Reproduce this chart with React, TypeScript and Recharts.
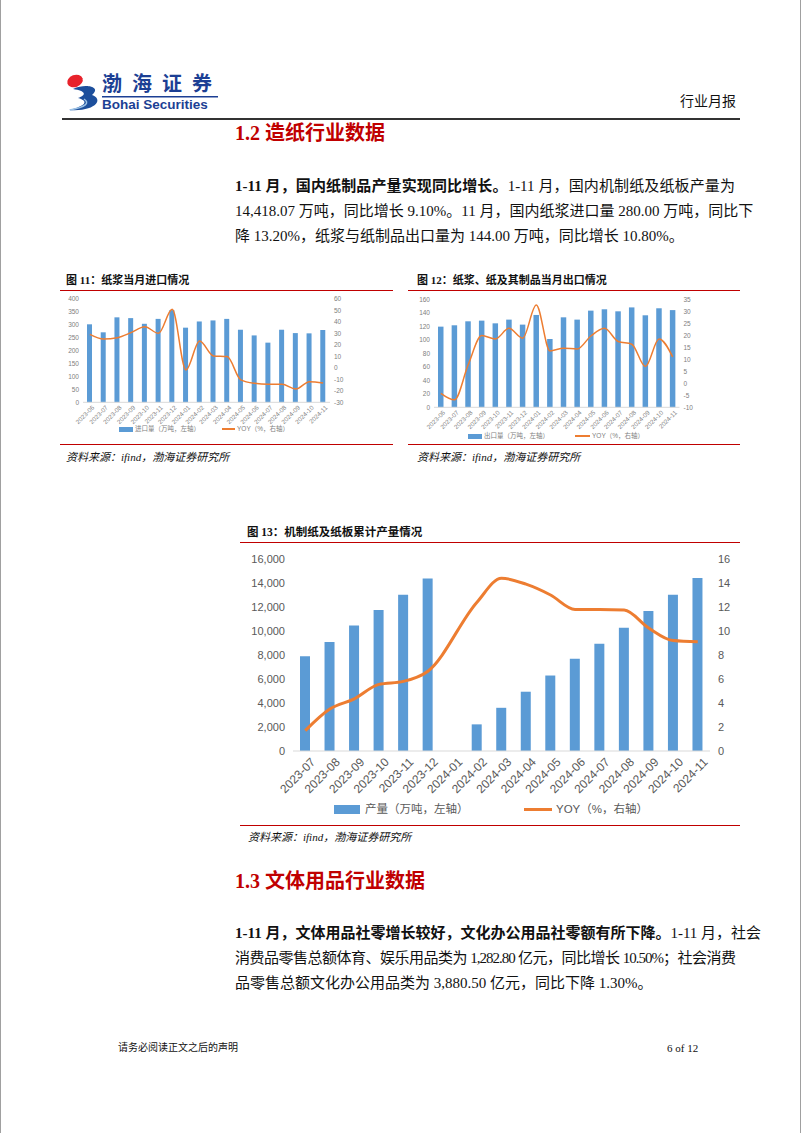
import React from "react";
import { ComposedChart, Bar, Line, XAxis, YAxis, Legend } from "recharts";

// 图11 / 图12: 2023-06 ~ 2024-11
const smallMonths = [
  "2023-06", "2023-07", "2023-08", "2023-09", "2023-10", "2023-11", "2023-12",
  "2024-01", "2024-02", "2024-03", "2024-04", "2024-05", "2024-06", "2024-07",
  "2024-08", "2024-09", "2024-10", "2024-11",
];
// 纸浆进口量（万吨）
const pulpImport = [302, 271, 329, 326, 304, 323, 357, 289, 313, 317, 323, 281, 259, 231, 281, 268, 267, 280];
// 纸浆进口 YOY（%）
const pulpImportYoy = [29.2, 25.2, 26.3, 30.7, 35.9, 30.1, 51, -1.8, 23.4, 10.4, 9.8, -10.5, -13.5, -14.3, -14.3, -18.4, -12, -13.2];
// 纸浆、纸及纸制品出口量（万吨）
const paperExport = [119.5, 121.5, 127.4, 128.4, 124.4, 129.9, 122.5, 136.8, 101.2, 133.3, 129.9, 143.2, 145.2, 142.2, 148, 136.3, 146.7, 144];
// 出口 YOY（%）
const paperExportYoy = [-4.2, -6.9, 7.6, 19.9, 18.5, 22.9, 18.8, 32.6, 13.5, 14.6, 14.3, 19.7, 22.9, 17.4, 16.3, 7, 18.5, 11];

// 图13: 2023-07 ~ 2024-11
const bigMonths = [
  "2023-07", "2023-08", "2023-09", "2023-10", "2023-11", "2023-12", "2024-01",
  "2024-02", "2024-03", "2024-04", "2024-05", "2024-06", "2024-07", "2024-08",
  "2024-09", "2024-10", "2024-11",
];
// 机制纸及纸板累计产量（万吨）
const paperOutput = [7900, 9090, 10450, 11750, 13025, 14380, null, 2220, 3600, 4940, 6290, 7680, 8930, 10280, 11670, 13025, 14418];
// 累计产量 YOY（%）
const paperOutputYoy = [1.7, 3.5, 4.35, 5.55, 5.8, 6.65, null, 12.4, 14.4, 13.9, 13.0, 11.8, 11.8, 11.75, 10.25, 9.2, 9.1];

// axis ticks
const importLeftTicks = [0, 50, 100, 150, 200, 250, 300, 350, 400];
const importRightTicks = [-30, -20, -10, 0, 10, 20, 30, 40, 50, 60];
const exportLeftTicks = [0, 20, 40, 60, 80, 100, 120, 140, 160];
const exportRightTicks = [-10, -5, 0, 5, 10, 15, 20, 25, 30, 35];
const outputLeftTicks = [0, 2000, 4000, 6000, 8000, 10000, 12000, 14000, 16000];
const outputRightTicks = [0, 2, 4, 6, 8, 10, 12, 14, 16];

const importData = smallMonths.map((m, i) => ({ month: m, vol: pulpImport[i], yoy: pulpImportYoy[i] }));
const exportData = smallMonths.map((m, i) => ({ month: m, vol: paperExport[i], yoy: paperExportYoy[i] }));
const outputData = bigMonths.map((m, i) => ({ month: m, vol: paperOutput[i], yoy: paperOutputYoy[i] }));

const SERIF = '"Liberation Serif", "Noto Sans CJK SC", serif';
const SANS = '"Liberation Sans", "Noto Sans CJK SC", sans-serif';
const BLUE = "#5B9BD5";
const ORANGE = "#ED7D31";
const RED = "#C00000";

function AngledTick(props: any) {
  const { x, y, payload, fontSize, fill, dx, dy } = props;
  const ax = x + dx;
  const ay = y + dy;
  return (
    <text
      x={ax}
      y={ay}
      transform={`rotate(-45 ${ax} ${ay})`}
      textAnchor="end"
      dominantBaseline="central"
      fontSize={fontSize}
      fill={fill}
      fontFamily={SANS}
    >
      {payload.value}
    </text>
  );
}

type LegendItem = { kind: "bar" | "line"; x: number; w: number; h: number; label: string; tx: number };

function FixedLegend({ items, height, fontSize, color }: { items: LegendItem[]; height: number; fontSize: number; color: string }) {
  return (
    <div style={{ position: "relative", height, width: "100%" }}>
      {items.map((it) => (
        <React.Fragment key={it.label}>
          <div
            style={{
              position: "absolute",
              left: it.x,
              top: (height - it.h) / 2,
              width: it.w,
              height: it.h,
              background: it.kind === "bar" ? BLUE : ORANGE,
            }}
          />
          <div
            style={{
              position: "absolute",
              left: it.tx,
              top: 0,
              height,
              lineHeight: `${height}px`,
              fontSize,
              color,
              whiteSpace: "nowrap",
              fontFamily: SANS,
            }}
          >
            {it.label}
          </div>
        </React.Fragment>
      ))}
    </div>
  );
}

function SmallChart(props: any) {
  const { data, width, leftTicks, rightTicks, leftWidth, margin, xHeight, barSize, legend } = props;
  const tickStyle = { fontSize: 6.5, fill: "#808080", fontFamily: SANS };
  return (
    <ComposedChart width={width} height={150} data={data} margin={margin}>
      <XAxis
        dataKey="month"
        interval={0}
        height={xHeight}
        tickLine={false}
        tickSize={0}
        tickMargin={0}
        axisLine={{ stroke: "#D9D9D9" }}
        tick={<AngledTick fontSize={6.3} fill="#808080" dx={3} dy={4} />}
      />
      <YAxis
        yAxisId="left"
        domain={[leftTicks[0], leftTicks[leftTicks.length - 1]]}
        ticks={leftTicks}
        interval={0}
        width={leftWidth}
        axisLine={false}
        tickLine={false}
        tickSize={0}
        tickMargin={4}
        tick={tickStyle}
      />
      <YAxis
        yAxisId="right"
        orientation="right"
        domain={[rightTicks[0], rightTicks[rightTicks.length - 1]]}
        ticks={rightTicks}
        interval={0}
        width={20}
        axisLine={false}
        tickLine={false}
        tickSize={0}
        tickMargin={4}
        tick={tickStyle}
      />
      <Legend
        verticalAlign="bottom"
        height={10}
        wrapperStyle={{ left: 0, width }}
        content={() => <FixedLegend items={legend} height={10} fontSize={6.5} color="#808080" />}
      />
      <Bar yAxisId="left" dataKey="vol" fill={BLUE} barSize={barSize} isAnimationActive={false} />
      <Line
        yAxisId="right"
        dataKey="yoy"
        type="monotone"
        stroke={ORANGE}
        strokeWidth={1.5}
        dot={false}
        isAnimationActive={false}
      />
    </ComposedChart>
  );
}

function OutputChart() {
  const tickStyle = { fontSize: 11, fill: "#595959", fontFamily: SANS };
  const legend: LegendItem[] = [
    { kind: "bar", x: 94, w: 26, h: 9, label: "产量（万吨，左轴）", tx: 125 },
    { kind: "line", x: 284, w: 28, h: 3, label: "YOY（%，右轴）", tx: 316 },
  ];
  return (
    <ComposedChart width={500} height={275} data={outputData} margin={{ top: 11, right: 0, bottom: 4, left: 8 }}>
      <XAxis
        dataKey="month"
        interval={0}
        height={48}
        tickLine={false}
        tickSize={0}
        tickMargin={0}
        axisLine={{ stroke: "#D9D9D9" }}
        tick={<AngledTick fontSize={12} fill="#595959" dx={8} dy={9} />}
      />
      <YAxis
        yAxisId="left"
        domain={[0, 16000]}
        ticks={outputLeftTicks}
        interval={0}
        width={45}
        axisLine={false}
        tickLine={false}
        tickSize={0}
        tickMargin={8}
        tickFormatter={(v: number) => v.toLocaleString("en-US")}
        tick={tickStyle}
      />
      <YAxis
        yAxisId="right"
        orientation="right"
        domain={[0, 16]}
        ticks={outputRightTicks}
        interval={0}
        width={30}
        axisLine={false}
        tickLine={false}
        tickSize={0}
        tickMargin={8}
        tick={tickStyle}
      />
      <Legend
        verticalAlign="bottom"
        height={20}
        wrapperStyle={{ left: 0, width: 500 }}
        content={() => <FixedLegend items={legend} height={20} fontSize={11.5} color="#595959" />}
      />
      <Bar yAxisId="left" dataKey="vol" fill={BLUE} barSize={10} isAnimationActive={false} />
      <Line
        yAxisId="right"
        dataKey="yoy"
        type="monotone"
        stroke={ORANGE}
        strokeWidth={3}
        dot={false}
        connectNulls
        isAnimationActive={false}
      />
    </ComposedChart>
  );
}

function Abs({ left, top, children, style }: any) {
  return <div style={{ position: "absolute", left, top, ...style }}>{children}</div>;
}

function HLine({ x1, x2, y, color, w }: any) {
  return <div style={{ position: "absolute", left: x1, top: y, width: x2 - x1, height: w, background: color }} />;
}

function TextLine({ top, children, justify = true, spacing = 0 }: any) {
  return (
    <div
      style={{
        position: "absolute",
        left: 235,
        top,
        width: 500,
        height: 25,
        lineHeight: "25px",
        fontSize: 15,
        fontFamily: SERIF,
        color: "#111",
        whiteSpace: "nowrap",
        letterSpacing: spacing,
        textAlign: justify ? "justify" : "left",
        textAlignLast: justify ? "justify" : "left",
      }}
    >
      {children}
    </div>
  );
}

function Logo() {
  return (
    <Abs left={64} top={70}>
      <svg width={160} height={42}>
        <ellipse cx={11} cy={11} rx={8} ry={6} fill="#E8222B" transform="rotate(-20 11 11)" />
        <path d="M9 19 C 22 13, 38 17, 28 25 C 40 29, 32 42, 5 40 C 22 36, 25 31, 14 28 C 23 25, 22 21, 9 19 Z" fill="#1D4F9C" />
        <path d="M6 40 C 22 37, 26 33, 20 29" stroke="#9DC3E6" strokeWidth={1.5} fill="none" />
        <text x={38} y={21} fontSize={20} fontWeight="bold" fill="#1C3F94" fontFamily={SANS} letterSpacing={10}>
          渤海证券
        </text>
        <rect x={38} y={26} width={116} height={1.5} fill="#1C3F94" />
        <text x={38} y={39} fontSize={13.5} fontWeight="bold" fill="#1C3F94" fontFamily={SANS}>
          Bohai Securities
        </text>
      </svg>
    </Abs>
  );
}

export default function App() {
  const importLegend: LegendItem[] = [
    { kind: "bar", x: 57, w: 14, h: 5, label: "进口量（万吨，左轴）", tx: 73 },
    { kind: "line", x: 160, w: 13, h: 1.5, label: "YOY（%，右轴）", tx: 175 },
  ];
  const exportLegend: LegendItem[] = [
    { kind: "bar", x: 60, w: 14, h: 5, label: "出口量（万吨，左轴）", tx: 76 },
    { kind: "line", x: 167, w: 15, h: 1.5, label: "YOY（%，右轴）", tx: 184 },
  ];
  const titleStyle = { fontSize: 11, fontWeight: "bold", fontFamily: SERIF, color: "#111", lineHeight: "14px", whiteSpace: "nowrap" };
  const sourceStyle = { fontSize: 11, fontStyle: "italic", fontFamily: SERIF, color: "#111", lineHeight: "14px", whiteSpace: "nowrap" };
  const headStyle = { fontSize: 20, fontWeight: "bold", fontFamily: SERIF, color: RED, lineHeight: "26px", whiteSpace: "nowrap" };

  return (
    <div style={{ position: "absolute", left: 0, top: 0, width: 802, height: 1133, background: "#fff", overflow: "hidden" }}>
      <div style={{ position: "absolute", left: 0, top: 0, width: 1, height: 1133, background: "#A0A0A0" }} />
      <div style={{ position: "absolute", left: 800, top: 0, width: 1, height: 1133, background: "#A0A0A0" }} />

      <Logo />
      <Abs left={680} top={92} style={{ fontSize: 14, fontFamily: SANS, color: "#111", lineHeight: "18px" }}>
        行业月报
      </Abs>
      <HLine x1={62} x2={740} y={118} color="#333" w={2} />

      <Abs left={235} top={120} style={headStyle}>
        1.2 造纸行业数据
      </Abs>
      <TextLine top={174}>
        <b>1-11 月，国内纸制品产量实现同比增长。</b>1-11 月，国内机制纸及纸板产量为
      </TextLine>
      <TextLine top={199}>14,418.07 万吨，同比增长 9.10%。11 月，国内纸浆进口量 280.00 万吨，同比下</TextLine>
      <TextLine top={224} justify={false}>
        降 13.20%，纸浆与纸制品出口量为 144.00 万吨，同比增长 10.80%。
      </TextLine>

      <Abs left={66} top={273} style={titleStyle}>
        图 11：纸浆当月进口情况
      </Abs>
      <HLine x1={60} x2={393} y={290} color={RED} w={1.3} />
      <Abs left={62} top={292}>
        <SmallChart
          data={importData}
          width={333}
          leftTicks={importLeftTicks}
          rightTicks={importRightTicks}
          leftWidth={19}
          margin={{ top: 7, right: 45, bottom: 8, left: 2 }}
          xHeight={21.7}
          barSize={5}
          legend={importLegend}
        />
      </Abs>
      <HLine x1={60} x2={393} y={444} color={RED} w={1.3} />
      <Abs left={66} top={450} style={sourceStyle}>
        资料来源：ifind，渤海证券研究所
      </Abs>

      <Abs left={417} top={273} style={titleStyle}>
        图 12：纸浆、纸及其制品当月出口情况
      </Abs>
      <HLine x1={408} x2={740} y={290} color={RED} w={1.3} />
      <Abs left={408} top={292}>
        <SmallChart
          data={exportData}
          width={337}
          leftTicks={exportLeftTicks}
          rightTicks={exportRightTicks}
          leftWidth={24}
          margin={{ top: 7.3, right: 45.5, bottom: 1, left: 2 }}
          xHeight={23.7}
          barSize={5.5}
          legend={exportLegend}
        />
      </Abs>
      <HLine x1={408} x2={740} y={444} color={RED} w={1.3} />
      <Abs left={417} top={450} style={sourceStyle}>
        资料来源：ifind，渤海证券研究所
      </Abs>

      <Abs left={247} top={525} style={{ ...titleStyle, fontSize: 11.5 }}>
        图 13：机制纸及纸板累计产量情况
      </Abs>
      <HLine x1={240} x2={740} y={542} color={RED} w={1.3} />
      <Abs left={240} top={548}>
        <OutputChart />
      </Abs>
      <HLine x1={240} x2={740} y={825} color={RED} w={1.3} />
      <Abs left={248} top={830} style={sourceStyle}>
        资料来源：ifind，渤海证券研究所
      </Abs>

      <Abs left={235} top={868} style={headStyle}>
        1.3 文体用品行业数据
      </Abs>
      <TextLine top={921}>
        <b>1-11 月，文体用品社零增长较好，文化办公用品社零额有所下降。</b>1-11 月，社会
      </TextLine>
      <TextLine top={946} spacing={-1}>
        消费品零售总额体育、娱乐用品类为 1,282.80 亿元，同比增长 10.50%；社会消费
      </TextLine>
      <TextLine top={971} justify={false}>
        品零售总额文化办公用品类为 3,880.50 亿元，同比下降 1.30%。
      </TextLine>

      <Abs left={118} top={1041} style={{ fontSize: 10, fontFamily: SERIF, color: "#111", lineHeight: "14px", whiteSpace: "nowrap" }}>
        请务必阅读正文之后的声明
      </Abs>
      <Abs left={667} top={1041} style={{ fontSize: 11, fontFamily: SERIF, color: "#111", lineHeight: "14px", whiteSpace: "nowrap" }}>
        6 of 12
      </Abs>
    </div>
  );
}
